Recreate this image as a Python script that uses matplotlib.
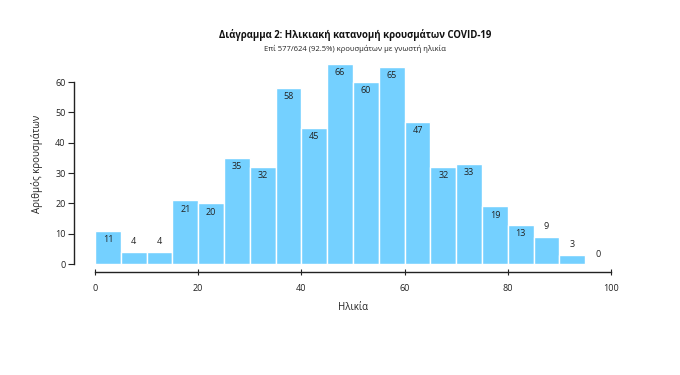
import matplotlib
matplotlib.use("Agg")
import matplotlib.pyplot as plt
import numpy as np

plt.rcParams['font.family'] = ['Open Sans', 'DejaVu Sans']

bin_edges = list(range(0, 101, 5))
counts = [11, 4, 4, 21, 20, 35, 32, 58, 45, 66, 60, 65, 47, 32, 33, 19, 13, 9, 3, 0]
title = "Διάγραμμα 2: Ηλικιακή κατανομή κρουσμάτων COVID-19"
subtitle = "Επί 577/624 (92.5%) κρουσμάτων με γνωστή ηλικία"
xlabel = "Ηλικία"
ylabel = "Αριθμός κρουσμάτων"

fig = plt.figure(figsize=(6.8, 3.75), dpi=100)
ax = fig.add_axes([95/680, 111/375, (611-95)/680, 200/375])

lefts = np.array(bin_edges[:-1])
ax.bar(lefts, counts, width=5, align='edge', color='#74D0FF',
       edgecolor='white', linewidth=1.0)

for x, c in zip(lefts, counts):
    if c >= 10:
        ax.text(x + 2.5, c - 1.4, str(c), ha='center', va='top', fontsize=6.5, color='#222222')
    else:
        ax.text(x + 2.5, c + 1.8, str(c), ha='center', va='bottom', fontsize=6.5, color='#222222')

ax.set_xlim(0, 100)
ax.set_ylim(0, 66)
ax.set_xticks([0, 20, 40, 60, 80, 100])
ax.set_yticks([0, 10, 20, 30, 40, 50, 60])
ax.spines['top'].set_visible(False)
ax.spines['right'].set_visible(False)
ax.spines['bottom'].set_position(('outward', 8 * 0.72))
ax.spines['left'].set_position(('outward', 21 * 0.72))
ax.spines['left'].set_bounds(0, 60)
ax.spines['bottom'].set_bounds(0, 100)
for s in ('left', 'bottom'):
    ax.spines[s].set_color('#222222')
    ax.spines[s].set_linewidth(1.0)
ax.tick_params(axis='both', labelsize=6.5, colors='#222222', length=4, width=0.8)
ax.tick_params(axis='y', pad=2)
ax.tick_params(axis='x', direction='inout', length=5, pad=6)

ax.set_xlabel(xlabel, fontsize=7, color='#222222', va='center')
ax.xaxis.set_label_coords(0.5, (264 - 307) / 200)
ax.set_ylabel(ylabel, fontsize=7, color='#222222', va='center')
ax.yaxis.set_label_coords((37 - 95) / 516, 0.5)

fig.text(355/680, 1 - 35/375, title, ha='center', va='center', fontsize=6.9, fontweight='bold', color='#111111')
fig.text(355/680, 1 - 49/375, subtitle, ha='center', va='center', fontsize=5.5, color='#222222')

fig.savefig('out.png', dpi=100)
